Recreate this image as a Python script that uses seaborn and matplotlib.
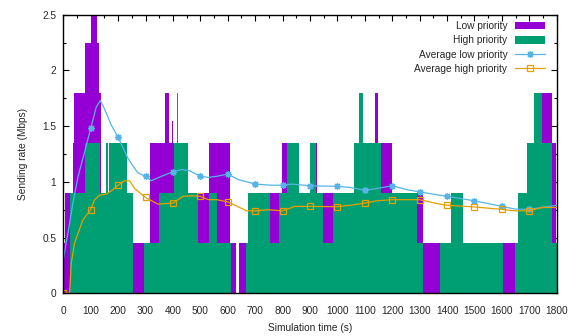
import numpy as np
import matplotlib
matplotlib.use("Agg")
import matplotlib.pyplot as plt
from matplotlib.ticker import MultipleLocator, FormatStrFormatter
import seaborn as sns

# ---- data ----
# Step series: change times (s) and level (Mbps) from that time on
low_t = [0, 5, 34, 39, 80, 100, 124, 130, 139, 253, 294, 317, 370, 387, 397, 399, 404,
         510, 532, 608, 629, 641, 667, 755, 787, 798, 816, 921, 924, 946, 983,
         1137, 1147, 1198, 1313, 1374, 1642, 1648, 1747, 1782, 1797]
low_v = [0.45, 0.9, 1.35, 1.8, 2.25, 2.6, 2.25, 1.8, 0.9, 0.45, 0.45, 1.35, 1.8, 1.35, 1.55, 1.35, 0.9,
         0.9, 1.35, 0.45, 0.0, 0.45, 0.45, 0.9, 0.45, 1.35, 0.9, 1.35, 0.9, 0.9, 0.9,
         1.8, 1.35, 0.9, 0.45, 0.45, 0.45, 0.45, 1.8, 1.35, 0.45]

high_t = [0, 24, 78, 133, 157, 163, 167, 234, 253, 295, 348, 404, 415, 420, 454, 490,
          532, 561, 611, 667, 675, 755, 787, 816, 860, 900, 921, 946, 983, 1062,
          1080, 1095, 1158, 1289, 1313, 1374, 1414, 1458, 1605, 1648, 1658, 1690,
          1718, 1747, 1782]
high_v = [0.0, 0.9, 1.35, 0.9, 1.35, 0.9, 1.35, 0.9, 0.0, 0.45, 0.9, 1.35, 1.8, 1.35, 0.9, 0.45,
          0.9, 0.45, 0.0, 0.45, 0.9, 0.45, 0.9, 1.35, 0.9, 1.35, 0.9, 0.45, 0.9, 1.35,
          1.8, 1.35, 0.9, 0.45, 0.0, 0.45, 0.9, 0.45, 0.0, 0.45, 0.9, 1.35,
          1.8, 1.35, 0.45]
t_end = 1800

avg_low_t = [0, 10, 17, 35, 54, 78, 100, 120, 135, 151, 175, 200, 236, 272, 300, 321, 358,
             400, 431, 460, 500, 529, 560, 600, 639, 700, 760, 800, 833, 900, 1000, 1046,
             1100, 1143, 1200, 1253, 1300, 1374, 1400, 1500, 1600, 1648, 1700, 1745, 1800]
avg_low_v = [0.30, 0.45, 0.54, 0.81, 1.05, 1.27, 1.48, 1.67, 1.73, 1.65, 1.51, 1.40, 1.21, 1.08,
             1.05, 1.01, 1.05, 1.09, 1.11, 1.10, 1.05, 1.04, 1.05, 1.07, 1.02, 0.98, 0.97, 0.97,
             0.98, 0.965, 0.96, 0.95, 0.925, 0.94, 0.965, 0.93, 0.91, 0.88, 0.87, 0.83, 0.78,
             0.756, 0.753, 0.77, 0.79]

avg_high_t = [0, 23, 29, 41, 54, 72, 100, 114, 133, 157, 181, 200, 224, 242, 260, 300, 345,
              400, 437, 470, 500, 529, 560, 600, 669, 700, 748, 800, 845, 900, 1000, 1046,
              1100, 1143, 1200, 1300, 1374, 1400, 1500, 1600, 1648, 1700, 1745, 1800]
avg_high_v = [0.0, 0.0, 0.27, 0.45, 0.54, 0.66, 0.75, 0.84, 0.88, 0.89, 0.93, 0.97, 1.01, 1.01,
              0.94, 0.86, 0.80, 0.81, 0.87, 0.875, 0.87, 0.84, 0.84, 0.82, 0.74, 0.74, 0.75,
              0.74, 0.78, 0.78, 0.777, 0.79, 0.81, 0.83, 0.84, 0.84, 0.80, 0.79, 0.775, 0.753,
              0.74, 0.74, 0.77, 0.77]

x_ticks = list(range(0, 1801, 100))
y_ticks = [0, 0.5, 1, 1.5, 2, 2.5]

# ---- style ----
sns.set_style("ticks")
plt.rcParams["font.family"] = ["Liberation Sans", "DejaVu Sans"]
plt.rcParams["font.size"] = 7.3

C_LOW = "#9400D3"
C_HIGH = "#009E73"
C_ALOW = "#56B4E9"
C_AHIGH = "#E69F00"

fig = plt.figure(figsize=(5.78, 3.36), dpi=100)
ax = fig.add_axes([63.3 / 578, 1 - 293.3 / 336, 493.4 / 578, 278.6 / 336])

low_patch = ax.stairs(low_v, low_t + [t_end], fill=True, color=C_LOW, baseline=0,
                      label="Low priority", zorder=1)
high_patch = ax.stairs(high_v, high_t + [t_end], fill=True, color=C_HIGH, baseline=0,
                       label="High priority", zorder=1.1)

mk_low = [i for i, t in enumerate(avg_low_t) if t % 100 == 0 and 0 < t < 1800]
mk_high = [i for i, t in enumerate(avg_high_t) if t % 100 == 0 and t < 1800]

sns.lineplot(x=avg_low_t, y=avg_low_v, ax=ax, color=C_ALOW, lw=0.9,
             marker=(8, 2, 0), markersize=5, markeredgewidth=0.9, markeredgecolor=C_ALOW,
             markevery=mk_low, label="Average low priority", zorder=3, sort=False)
sns.lineplot(x=avg_high_t, y=avg_high_v, ax=ax, color=C_AHIGH, lw=0.9,
             marker="s", markersize=4.5, markerfacecolor="none", markeredgewidth=0.9,
             markeredgecolor=C_AHIGH, markevery=mk_high, label="Average high priority",
             zorder=3, sort=False)

ax.set_xlim(0, 1800)
ax.set_ylim(0, 2.5)
ax.set_xticks(x_ticks)
ax.set_yticks(y_ticks)
ax.yaxis.set_major_formatter(FormatStrFormatter("%g"))
ax.xaxis.set_minor_locator(MultipleLocator(50))
ax.yaxis.set_minor_locator(MultipleLocator(0.25))
ax.tick_params(which="both", direction="in", top=True, right=True, width=0.8, color="black")
ax.tick_params(which="major", length=4.5)
ax.tick_params(which="minor", length=2.2)
ax.tick_params(axis="x", which="major", pad=9)
ax.tick_params(axis="y", which="major", pad=5)
for s in ax.spines.values():
    s.set_linewidth(1.0)
    s.set_color("black")
    s.set_zorder(4)

ax.set_xlabel("Simulation time (s)")
ax.set_ylabel("Sending rate (Mbps)")
ax.xaxis.set_label_coords(0.5, -0.108)
ax.yaxis.set_label_coords(-0.072, 0.5)

handles, labels = ax.get_legend_handles_labels()
order = ["Low priority", "High priority", "Average low priority", "Average high priority"]
hmap = dict(zip(labels, handles))
leg = ax.legend([hmap[k] for k in order], order, loc="upper right",
                bbox_to_anchor=((545 - 63.3) / 493.4, 1 - (21 - 14.7) / 278.6),
                frameon=False, markerfirst=False, handlelength=3.0, handleheight=0.8,
                handletextpad=0.7, labelspacing=0.42, borderpad=0, borderaxespad=0,
                fontsize=7.3)

fig.savefig("out.png", dpi=100)
